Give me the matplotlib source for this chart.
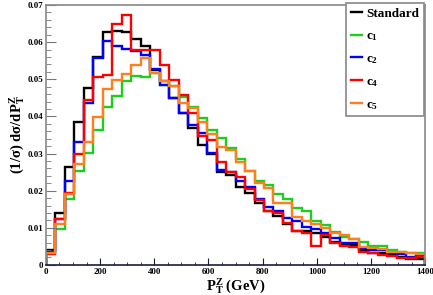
import matplotlib
matplotlib.use("Agg")
import matplotlib.pyplot as plt
import numpy as np
from matplotlib.lines import Line2D
from matplotlib.ticker import MultipleLocator

plt.rcParams["font.family"] = "Liberation Serif"
plt.rcParams["font.weight"] = "bold"
plt.rcParams["mathtext.fontset"] = "custom"
plt.rcParams["mathtext.rm"] = "Liberation Serif:bold"
plt.rcParams["mathtext.bf"] = "Liberation Serif:bold"
plt.rcParams["mathtext.it"] = "Liberation Serif:bold"

# 40 bins of 35 GeV between 0 and 1400 GeV
EDGES = np.linspace(0, 1400, 41)

standard = [0.0040, 0.0141, 0.0263, 0.0384, 0.0476, 0.0559, 0.0626, 0.0629, 0.0627, 0.0609,
            0.0590, 0.0525, 0.0494, 0.0449, 0.0409, 0.0368, 0.0323, 0.0300, 0.0251, 0.0243,
            0.0211, 0.0193, 0.0166, 0.0144, 0.0132, 0.0110, 0.0092, 0.0090, 0.0087, 0.0075,
            0.0063, 0.0054, 0.0054, 0.0040, 0.0031, 0.0031, 0.0027, 0.0022, 0.0017, 0.0015]
c1 = [0.0035, 0.0097, 0.0177, 0.0252, 0.0301, 0.0364, 0.0425, 0.0454, 0.0496, 0.0510,
      0.0505, 0.0516, 0.0485, 0.0482, 0.0452, 0.0424, 0.0397, 0.0364, 0.0341, 0.0314,
      0.0286, 0.0252, 0.0225, 0.0215, 0.0191, 0.0178, 0.0153, 0.0144, 0.0119, 0.0108,
      0.0088, 0.0076, 0.0070, 0.0063, 0.0052, 0.0050, 0.0040, 0.0036, 0.0033, 0.0031]
c2 = [0.0035, 0.0125, 0.0225, 0.0330, 0.0437, 0.0557, 0.0602, 0.0589, 0.0581, 0.0575,
      0.0565, 0.0527, 0.0485, 0.0450, 0.0409, 0.0377, 0.0355, 0.0301, 0.0256, 0.0251,
      0.0225, 0.0211, 0.0177, 0.0155, 0.0146, 0.0126, 0.0119, 0.0102, 0.0096, 0.0085,
      0.0072, 0.0060, 0.0058, 0.0045, 0.0040, 0.0039, 0.0033, 0.0030, 0.0021, 0.0025]
c4 = [0.0030, 0.0123, 0.0195, 0.0300, 0.0443, 0.0506, 0.0512, 0.0650, 0.0674, 0.0580,
      0.0580, 0.0580, 0.0539, 0.0499, 0.0458, 0.0410, 0.0348, 0.0337, 0.0278, 0.0251,
      0.0236, 0.0205, 0.0175, 0.0144, 0.0139, 0.0114, 0.0090, 0.0085, 0.0052, 0.0080,
      0.0058, 0.0051, 0.0048, 0.0036, 0.0033, 0.0027, 0.0024, 0.0019, 0.0018, 0.0020]
c5 = [0.0033, 0.0110, 0.0190, 0.0272, 0.0332, 0.0398, 0.0474, 0.0497, 0.0515, 0.0539,
      0.0557, 0.0517, 0.0494, 0.0481, 0.0437, 0.0422, 0.0386, 0.0353, 0.0317, 0.0310,
      0.0278, 0.0254, 0.0220, 0.0207, 0.0166, 0.0166, 0.0130, 0.0117, 0.0110, 0.0100,
      0.0085, 0.0081, 0.0069, 0.0047, 0.0045, 0.0042, 0.0036, 0.0034, 0.0031, 0.0030]

SERIES = [
    ("Standard", standard, "black"),
    (r"c$_1$", c1, "#1ccf1c"),
    (r"c$_2$", c2, "#0000ff"),
    (r"c$_4$", c4, "#ff0000"),
    (r"c$_5$", c5, "#ff7f1e"),
]

fig = plt.figure(figsize=(4.33, 2.95), dpi=100)
ax = fig.add_axes([0.106, 0.102, 0.876, 0.881])

for label, vals, col in SERIES:
    ax.stairs(vals, EDGES, baseline=0, color=col, lw=1.7)

ax.set_xlim(0, 1400)
ax.set_ylim(0, 0.07)
ax.xaxis.set_major_locator(MultipleLocator(200))
ax.xaxis.set_minor_locator(MultipleLocator(50))
ax.yaxis.set_major_locator(MultipleLocator(0.01))
ax.yaxis.set_minor_locator(MultipleLocator(0.002))
ax.yaxis.set_major_formatter(lambda v, p: "0" if v == 0 else f"{v:.2f}")

ax.tick_params(axis="both", which="both", direction="in", labelsize=6.5)
ax.tick_params(axis="y", which="major", length=7, color="#777777", pad=2)
ax.tick_params(axis="y", which="minor", length=3.5, color="#777777")
ax.tick_params(axis="x", which="major", length=5, color="#1a1a40", pad=2)
ax.tick_params(axis="x", which="minor", length=2.5, color="#1a1a40")
for t in ax.get_xticklabels() + ax.get_yticklabels():
    t.set_fontweight("bold")

for s in ["top", "right", "left"]:
    ax.spines[s].set_color("#888888")
    ax.spines[s].set_linewidth(1.2)
ax.spines["bottom"].set_color("#1a1a40")
ax.spines["bottom"].set_linewidth(1.2)

ax.set_xlabel(r"P$_{\mathrm{T}}^{\mathrm{Z}}$ (GeV)", fontsize=10.5, fontweight="bold", labelpad=1)
ax.set_ylabel(r"(1/σ) dσ/dP$_{\mathrm{T}}^{\mathrm{Z}}$", fontsize=10.5, fontweight="bold", labelpad=0)

handles = [Line2D([0], [0], color=c, lw=1.7) for _, _, c in SERIES]
leg = ax.legend(handles, [s[0] for s in SERIES], loc="upper right",
                bbox_to_anchor=(0.997, 1.007), prop={"weight": "bold", "size": 9.5},
                handlelength=0.9, handletextpad=0.3, labelspacing=0.75,
                borderpad=0.35, fancybox=False, framealpha=1, borderaxespad=0)
leg.get_frame().set_edgecolor("#888888")
leg.get_frame().set_linewidth(1.2)

fig.savefig("out.png", dpi=100)
